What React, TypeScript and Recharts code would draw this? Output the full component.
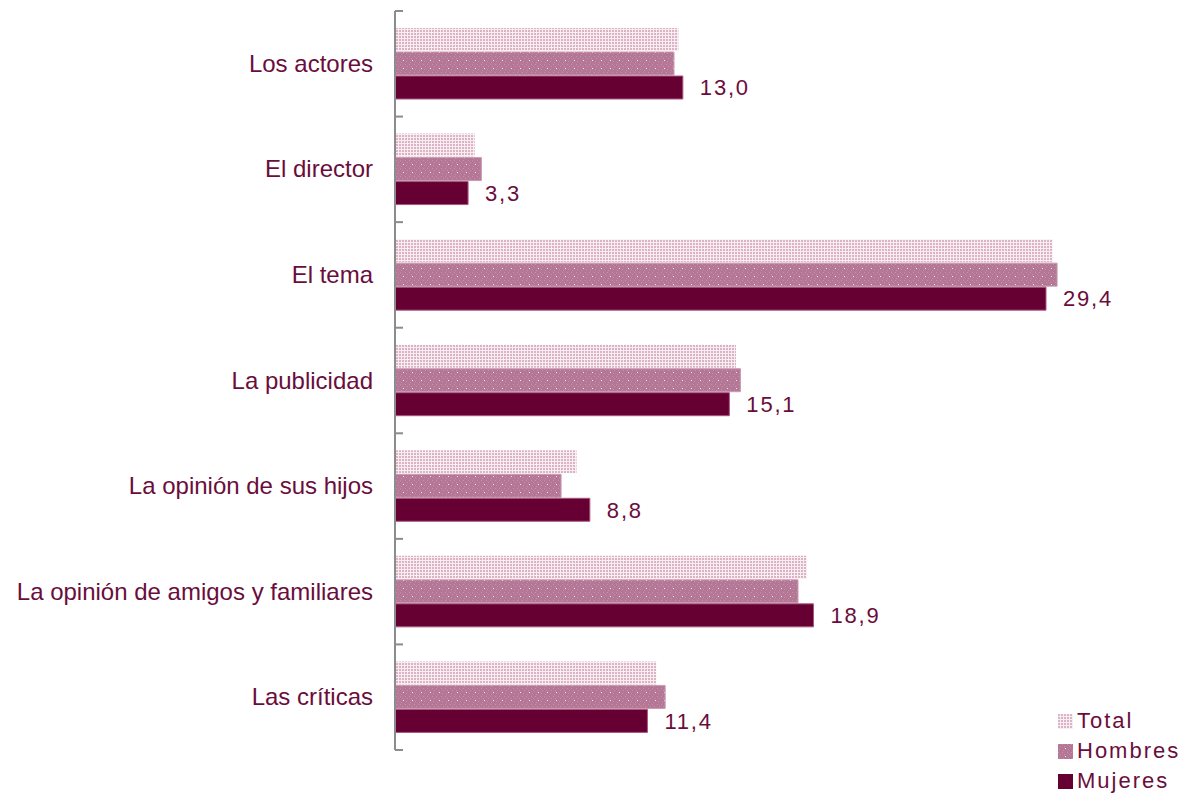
import { BarChart, Bar, XAxis, YAxis, LabelList } from 'recharts';

const categories = [
  'Los actores',
  'El director',
  'El tema',
  'La publicidad',
  'La opinión de sus hijos',
  'La opinión de amigos y familiares',
  'Las críticas',
];
const total = [12.8, 3.6, 29.7, 15.4, 8.2, 18.6, 11.8];
const hombres = [12.6, 3.9, 29.9, 15.6, 7.5, 18.2, 12.2];
const mujeres = [13.0, 3.3, 29.4, 15.1, 8.8, 18.9, 11.4];

const data = categories.map((name, i) => ({
  name,
  total: total[i],
  hombres: hombres[i],
  mujeres: mujeres[i],
}));

const TEXT = '#6a0d3c';
const FONT = '"Liberation Sans", Arial, sans-serif';

const legendItems = [
  { label: 'Total', fill: 'url(#pTotal)' },
  { label: 'Hombres', fill: 'url(#pHombres)' },
  { label: 'Mujeres', fill: '#660033' },
];

const CHART_TOP = 11;
const CHART_BOTTOM = 44;
const CHART_H = 794;

function CategoryTick(props: any) {
  const { x, y, payload, index } = props;
  const band = (CHART_H - CHART_TOP - CHART_BOTTOM) / categories.length;
  return (
    <g>
      <text
        x={x - 22}
        y={y}
        dy={8}
        textAnchor="end"
        fill={TEXT}
        fontSize={24}
        fontFamily={FONT}
      >
        {payload.value}
      </text>
      <line x1={x} x2={x + 8} y1={y - band / 2} y2={y - band / 2} stroke="#8c8c8c" strokeWidth={2} />
      {index === categories.length - 1 && (
        <line x1={x} x2={x + 8} y1={y + band / 2} y2={y + band / 2} stroke="#8c8c8c" strokeWidth={2} />
      )}
    </g>
  );
}

export default function App() {
  return (
    <div style={{ position: 'absolute', left: 0, top: 0, width: 1182, height: 794 }}>
      <BarChart
        width={1182}
        height={CHART_H}
        data={data}
        layout="vertical"
        margin={{ top: CHART_TOP, right: 12, bottom: CHART_BOTTOM, left: 0 }}
        barSize={23}
        barGap={1}
      >
        <defs>
          <pattern id="pTotal" width="3" height="3" patternUnits="userSpaceOnUse">
            <rect width="3" height="3" fill="#f8eef2" />
            <rect width="2" height="2" fill="#dbb3c5" />
          </pattern>
          <pattern id="pHombres" width="9" height="8" patternUnits="userSpaceOnUse">
            <rect width="9" height="8" fill="#b47896" />
            <rect x="0" y="0" width="1" height="1" fill="#c391aa" />
            <rect x="2" y="2" width="1" height="1" fill="#c391aa" />
            <rect x="4" y="0" width="1" height="1" fill="#c391aa" />
            <rect x="6" y="2" width="1" height="1" fill="#c391aa" />
            <rect x="1" y="5" width="1" height="1" fill="#c391aa" />
            <rect x="5" y="6" width="1" height="1" fill="#c391aa" />
            <rect x="7" y="4" width="1" height="1" fill="#f4e6ec" />
          </pattern>
        </defs>
        <XAxis type="number" domain={[0, 35]} hide />
        <YAxis
          type="category"
          dataKey="name"
          width={395}
          axisLine={{ stroke: '#8c8c8c', strokeWidth: 2 }}
          tickLine={false}
          tickSize={0}
          tickMargin={0}
          tick={<CategoryTick />}
          interval={0}
        />
        <Bar dataKey="total" fill="url(#pTotal)" isAnimationActive={false} />
        <Bar dataKey="hombres" fill="url(#pHombres)" stroke="#c99ab1" strokeWidth={1} isAnimationActive={false} />
        <Bar dataKey="mujeres" fill="#660033" stroke="#a9577f" strokeWidth={1} isAnimationActive={false}>
          <LabelList
            dataKey="mujeres"
            position="right"
            offset={17}
            fill={TEXT}
            fontSize={22}
            fontFamily={FONT}
            letterSpacing={1.8}
            formatter={(v: any) => Number(v).toFixed(1).replace('.', ',')}
          />
        </Bar>
      </BarChart>
      <div style={{ position: 'absolute', left: 1058, top: 706 }}>
        {legendItems.map((item) => (
          <div key={item.label} style={{ display: 'flex', alignItems: 'center', height: 30 }}>
            <svg width={15} height={15} style={{ marginRight: 4 }}>
              <rect width={15} height={15} fill={item.fill} />
            </svg>
            <span style={{ fontFamily: FONT, fontSize: 22, letterSpacing: 2, color: TEXT }}>{item.label}</span>
          </div>
        ))}
      </div>
    </div>
  );
}
